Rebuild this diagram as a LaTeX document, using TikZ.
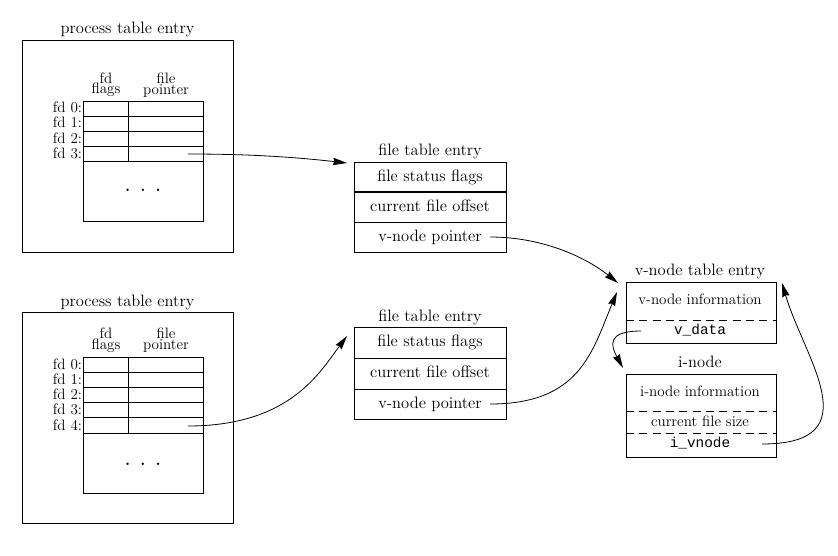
\documentclass[tikz,border=0pt]{standalone}
\usepackage{fontspec}
\setmonofont{Liberation Mono}
\usetikzlibrary{arrows.meta,fit}
\newcommand\mainsz{\fontsize{12.4}{14}\selectfont}
\newcommand\smallsz{\fontsize{11.3}{13}\selectfont}
\newcommand\hdrsz{\fontsize{11.3}{8.2}\selectfont\lineskiplimit=-20pt}
\newcommand\monosz{\fontsize{10.8}{13}\selectfont\ttfamily}
\begin{document}
\begin{tikzpicture}[x=0.75pt,y=-0.75pt,line width=0.7pt,
  box/.style={draw,inner sep=0pt,outer sep=0pt,fit={#1}},
  ttl/.style={font=\mainsz,inner sep=0pt,anchor=base},
  txt/.style={font=\mainsz,inner sep=0pt,anchor=base},
  stxt/.style={font=\smallsz,inner sep=0pt,anchor=base},
  hdr/.style={font=\hdrsz,inner sep=0pt,align=center,anchor=south},
  fdl/.style={font=\smallsz,inner sep=0pt,anchor=base east},
  mono/.style={font=\monosz,inner sep=0pt,anchor=base},
  dots/.style={font=\mainsz\bfseries,inner sep=0pt},
  arr/.style={-{Stealth[length=10.5pt,width=5.5pt,inset=1pt]},line width=0.6pt},
  dsh/.style={dash pattern=on 6pt off 4pt}]
\useasboundingbox (0,0) rectangle (838,556);

% ---------- process table entry 1 ----------
\node[ttl] (pt1) at (127.5,34) {process table entry};
\node[box={(22,40) (233,252)}] (p1) {};
\node[box={(83,101) (203,221)}] (tb1) {};
\foreach \y in {116,131,146,161} \draw (83,\y) -- (203,\y);
\draw (128,101) -- (128,161);
\node[hdr] (h1a) at (106,97.5) {fd\\flags};
\node[hdr] (h1b) at (166,97.5) {file\\pointer};
\foreach \i in {0,...,3} \node[fdl] (r1\i) at (82.5,{113+15*\i}) {fd \i:};
\node[dots] (d1) at (143,190) {.\hspace{7.5pt}.\hspace{7.5pt}.};
\coordinate (s1) at (188,154);

% ---------- process table entry 2 ----------
\node[ttl] (pt2) at (127.5,306) {process table entry};
\node[box={(22,312) (233,523)}] (p2) {};
\node[box={(83,357) (203,493)}] (tb2) {};
\foreach \y in {372.2,387.4,402.6,417.8,433} \draw (83,\y) -- (203,\y);
\draw (128,357) -- (128,433);
\node[hdr] (h2a) at (106,353) {fd\\flags};
\node[hdr] (h2b) at (166,353) {file\\pointer};
\foreach \i in {0,...,4} \node[fdl] (r2\i) at (82.5,{369.2+15.2*\i}) {fd \i:};
\node[dots] (d2) at (143,464) {.\hspace{7.5pt}.\hspace{7.5pt}.};
\coordinate (s2) at (188,426);

% ---------- file table entry 1 ----------
\node[ttl] (ft1) at (430,155.5) {file table entry};
\node[box={(354,162) (506,252)}] (f1) {};
\draw[line width=1.4pt] (354,192) -- (506,192);
\draw (354,222) -- (506,222);
\node[txt] (f1a) at (430,181) {file status flags};
\node[txt] (f1b) at (430,211) {current file offset};
\node[txt] (f1c) at (430,241) {v-node pointer};
\coordinate (s3) at (490,237);

% ---------- file table entry 2 ----------
\node[ttl] (ft2) at (430,321) {file table entry};
\node[box={(354,327) (506,419)}] (f2) {};
\draw (354,358) -- (506,358);
\draw (354,389) -- (506,389);
\node[txt] (f2a) at (430,346.5) {file status flags};
\node[txt] (f2b) at (430,377.5) {current file offset};
\node[txt] (f2c) at (430,408) {v-node pointer};
\coordinate (s4) at (490,404);

% ---------- v-node table entry ----------
\node[ttl] (vt) at (700,275.5) {v-node table entry};
\node[box={(626,282) (776,343)}] (vn) {};
\draw[dsh] (626,320) -- (776,320);
\node[stxt] (vi) at (700,304.5) {v-node information};
\node[mono] (vd) at (700,334.5) {v\_data};
\coordinate (s5) at (641,331);

% ---------- i-node ----------
\node[ttl] (itl) at (700,367) {i-node};
\node[box={(626,374) (776,457)}] (inode) {};
\draw[dsh] (626,411) -- (776,411);
\draw[dsh] (626,433) -- (776,433);
\node[stxt] (ii) at (700,396) {i-node information};
\node[stxt] (isz) at (700,426) {current file size};
\node[mono] (iv) at (700,447.5) {i\_vnode};
\coordinate (s6) at (762,444);

% ---------- connectors ----------
\draw[arr] (s1) .. controls +(70,0) and +(-45,-5) .. ([xshift=-5.25pt,yshift=-0.75pt]f1.north west);
\draw[arr] (s2) .. controls +(102,0) and +(-27,36) .. ([xshift=-5.25pt,yshift=-6.75pt]f2.north west);
\draw[arr] (s3) .. controls +(55,0) and +(-30,-24) .. ([xshift=-6pt,yshift=-0.75pt]vn.north west);
\draw[arr] (s4) .. controls +(90,0) and +(-25,60) .. ([xshift=-6.75pt,yshift=-7.5pt]vn.north west);
\draw[arr] (s5) .. controls +(-35,0) and +(-12,-22) .. ([xshift=-2.25pt,yshift=4.5pt]inode.north west);
\draw[arr] (s6) .. controls +(110,0) and +(22,75) .. ([xshift=4.5pt,yshift=-0.75pt]vn.north east);
\end{tikzpicture}
\end{document}
